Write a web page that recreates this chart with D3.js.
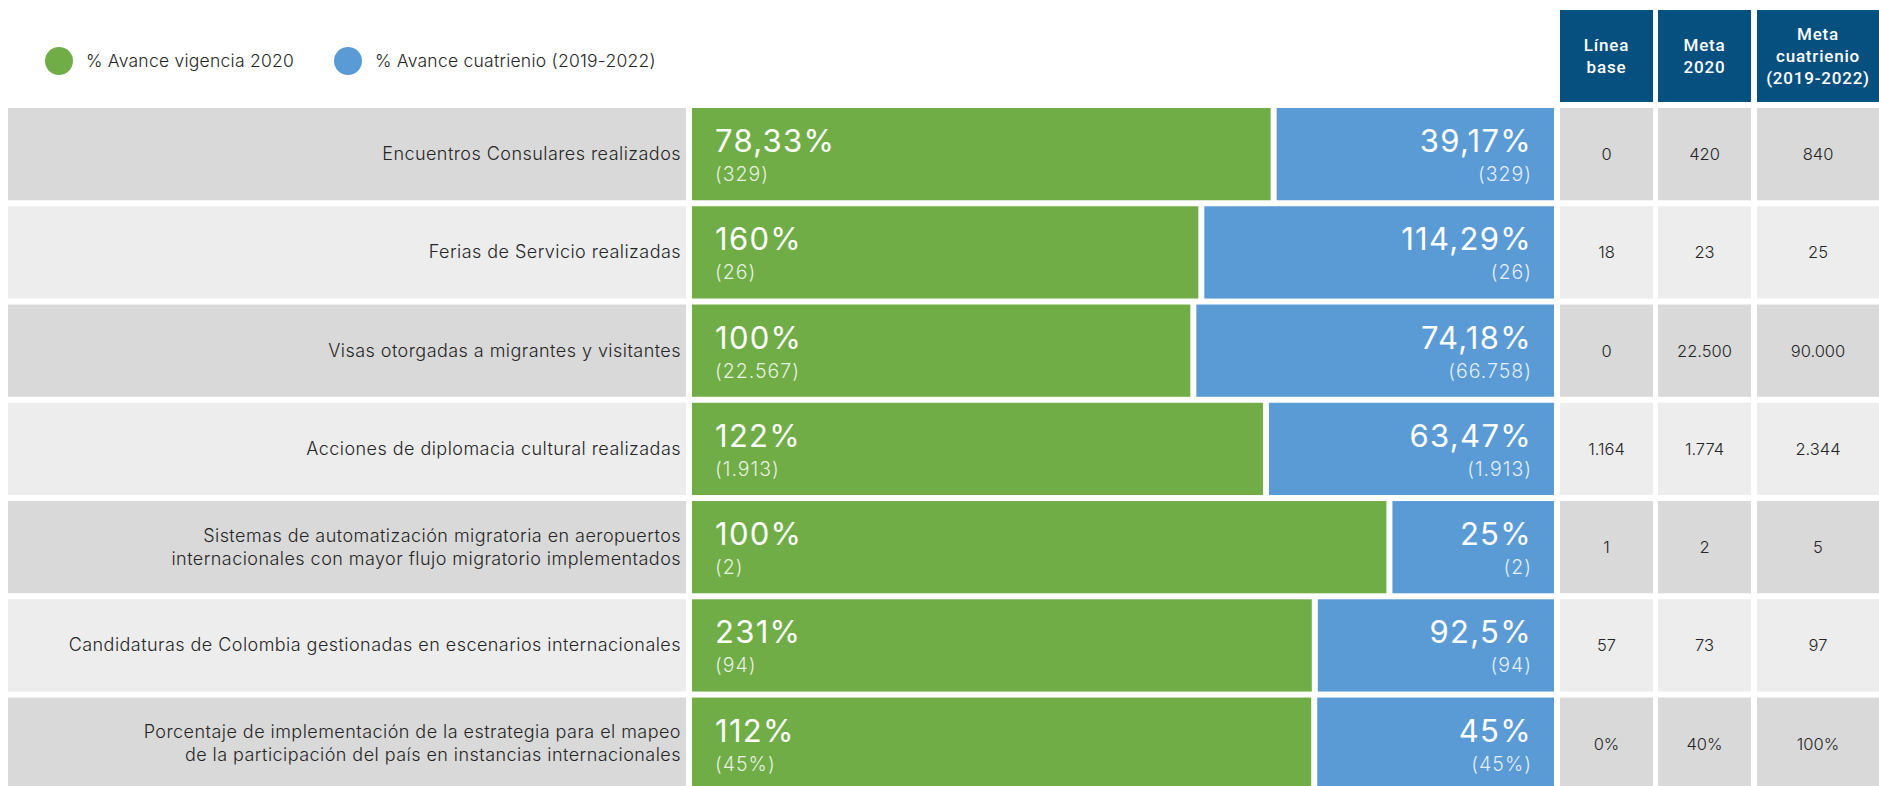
<!DOCTYPE html>
<html lang="es">
<head>
<meta charset="utf-8">
<script src="https://cdn.jsdelivr.net/npm/d3@7"></script>
<style>
  html, body { margin: 0; padding: 0; background: #ffffff; }
  svg { display: block; }
</style>
</head>
<body>
<svg id="chart" width="1879" height="786"></svg>
<script>
// Indicadores y avances
const categories = [
  ["Encuentros Consulares realizados"],
  ["Ferias de Servicio realizadas"],
  ["Visas otorgadas a migrantes y visitantes"],
  ["Acciones de diplomacia cultural realizadas"],
  ["Sistemas de automatización migratoria en aeropuertos", "internacionales con mayor flujo migratorio implementados"],
  ["Candidaturas de Colombia gestionadas en escenarios internacionales"],
  ["Porcentaje de implementación de la estrategia para el mapeo", "de la participación del país en instancias internacionales"]
];
const avanceVigencia = [78.33, 160, 100, 122, 100, 231, 112];
const avanceCuatrienio = [39.17, 114.29, 74.18, 63.47, 25, 92.5, 45];
const logroVigencia = [329, 26, 22567, 1913, 2, 94, 45];
const logroCuatrienio = [329, 26, 66758, 1913, 2, 94, 45];
const unidades = ["", "", "", "", "", "", "%"];
const lineaBase = [0, 18, 0, 1164, 1, 57, 0];
const meta2020 = [420, 23, 22500, 1774, 2, 73, 40];
const metaCuatrienio = [840, 25, 90000, 2344, 5, 97, 100];
const columnHeaders = [["Línea", "base"], ["Meta", "2020"], ["Meta", "cuatrienio", "(2019-2022)"]];
const seriesNames = ["% Avance vigencia 2020", "% Avance cuatrienio (2019-2022)"];

const colors = { green: "#70ad47", blue: "#5b9bd5", header: "#06507f", rowOdd: "#d9d9d9", rowEven: "#ededed", text: "#262626" };

const locale = d3.formatLocale({ decimal: ",", thousands: ".", grouping: [3], currency: ["$", ""] });
const fmtPct = locale.format(",.2~f");
const fmtNum = locale.format(",d");

const svg = d3.select("#chart");
const font = "Inter, Roboto, 'Liberation Sans', sans-serif";
const headFont = "Roboto, 'Liberation Sans', sans-serif";

const rows = categories.map((c, i) => ({
  i, label: c,
  v: avanceVigencia[i], c: avanceCuatrienio[i],
  lv: logroVigencia[i], lc: logroCuatrienio[i], u: unidades[i],
  table: [lineaBase[i], meta2020[i], metaCuatrienio[i]]
}));

// Vertical layout: one band per indicator
const y = d3.scaleBand()
  .domain(rows.map(d => d.i))
  .range([108, 108 + 7 * 98.26 - 6])
  .paddingInner(0.061)
  .paddingOuter(0);
const bh = y.bandwidth();

// Horizontal layout: share of each indicator row split between both series
const x = d3.scaleLinear().domain([0, 1]).range([692, 1560]);
const gap = 6;
const stack = d3.stack().keys(["v", "c"]).offset(d3.stackOffsetExpand);
const stacked = stack(rows);

// Label column
const labelG = svg.append("g");
labelG.selectAll("rect").data(rows).join("rect")
  .attr("x", 8).attr("width", 678)
  .attr("y", d => y(d.i)).attr("height", bh)
  .attr("fill", d => d.i % 2 === 0 ? colors.rowOdd : colors.rowEven);
labelG.selectAll("text").data(rows).join("text")
  .attr("x", 681)
  .attr("y", d => y(d.i) + bh / 2 + 6 - (d.label.length - 1) * 11.5)
  .attr("text-anchor", "end")
  .attr("font-family", font).attr("font-weight", 300)
  .attr("font-size", 18).attr("letter-spacing", 0.45).attr("fill", colors.text)
  .selectAll("tspan").data(d => d.label).join("tspan")
  .attr("x", 681).attr("dy", (t, k) => k === 0 ? 0 : 23)
  .text(t => t);

// Bars
const seriesColor = [colors.green, colors.blue];
stacked.forEach((layer, k) => {
  const g = svg.append("g");
  const x0 = d => k === 0 ? x(d[0]) : x(d[0]) + gap;
  const x1 = d => k === 0 ? x(d[1]) : x(d[1]) - gap;
  g.selectAll("rect").data(layer).join("rect")
    .attr("x", x0)
    .attr("width", d => x1(d) - x0(d))
    .attr("y", (d, j) => y(rows[j].i))
    .attr("height", bh)
    .attr("fill", seriesColor[k]);

  const tx = d => k === 0 ? x0(d) + 23 : x1(d) - 22;
  g.selectAll("text.big").data(layer).join("text").attr("class", "big")
    .attr("x", tx)
    .attr("y", (d, j) => y(rows[j].i) + 44)
    .attr("text-anchor", k === 0 ? "start" : "end")
    .attr("font-family", font).attr("font-weight", 400)
    .attr("font-size", 31).attr("letter-spacing", 1.3)
    .attr("fill", "#ffffff")
    .text((d, j) => fmtPct(k === 0 ? rows[j].v : rows[j].c) + "%");
  g.selectAll("text.small").data(layer).join("text").attr("class", "small")
    .attr("x", tx)
    .attr("y", (d, j) => y(rows[j].i) + 73)
    .attr("text-anchor", k === 0 ? "start" : "end")
    .attr("font-family", font).attr("font-weight", 300)
    .attr("font-size", 19.5).attr("letter-spacing", 1)
    .attr("fill", "#ffffff").attr("fill-opacity", 0.85)
    .text((d, j) => "(" + fmtNum(k === 0 ? rows[j].lv : rows[j].lc) + rows[j].u + ")");
});

// Reference table (baseline and targets)
const colX = [[1560, 1653], [1658, 1751], [1757, 1879]];
const tableG = svg.append("g");
colX.forEach(([x0, x1], c) => {
  tableG.append("rect").attr("x", x0).attr("y", 10).attr("width", x1 - x0).attr("height", 92)
    .attr("fill", colors.header);
  const lines = columnHeaders[c];
  tableG.append("text")
    .attr("text-anchor", "middle")
    .attr("font-family", headFont).attr("font-weight", 500)
    .attr("font-size", 17).attr("letter-spacing", 0.8).attr("fill", "#ffffff")
    .selectAll("tspan").data(lines).join("tspan")
    .attr("x", (x0 + x1) / 2)
    .attr("y", (t, k) => 56 + 6 - (lines.length - 1) * 11 + k * 22)
    .text(t => t);

  tableG.selectAll("rect.cell" + c).data(rows).join("rect").attr("class", "cell" + c)
    .attr("x", x0).attr("width", x1 - x0)
    .attr("y", d => y(d.i)).attr("height", bh)
    .attr("fill", d => d.i % 2 === 0 ? colors.rowOdd : colors.rowEven);
  tableG.selectAll("text.cell" + c).data(rows).join("text").attr("class", "cell" + c)
    .attr("x", (x0 + x1) / 2)
    .attr("y", d => y(d.i) + bh / 2 + 6)
    .attr("text-anchor", "middle")
    .attr("font-family", font).attr("font-weight", 300)
    .attr("font-size", 16.5).attr("fill", colors.text)
    .text(d => fmtNum(d.table[c]) + d.u);
});

// Legend
const legend = svg.append("g");
const legendX = [59, 348];
seriesNames.forEach((name, k) => {
  legend.append("circle").attr("cx", legendX[k]).attr("cy", 61).attr("r", 14).attr("fill", seriesColor[k]);
  legend.append("text").attr("x", legendX[k] + 27).attr("y", 67)
    .attr("font-family", font).attr("font-weight", 300)
    .attr("font-size", 17.5).attr("letter-spacing", 0.25).attr("fill", colors.text)
    .text(name);
});
</script>
</body>
</html>
